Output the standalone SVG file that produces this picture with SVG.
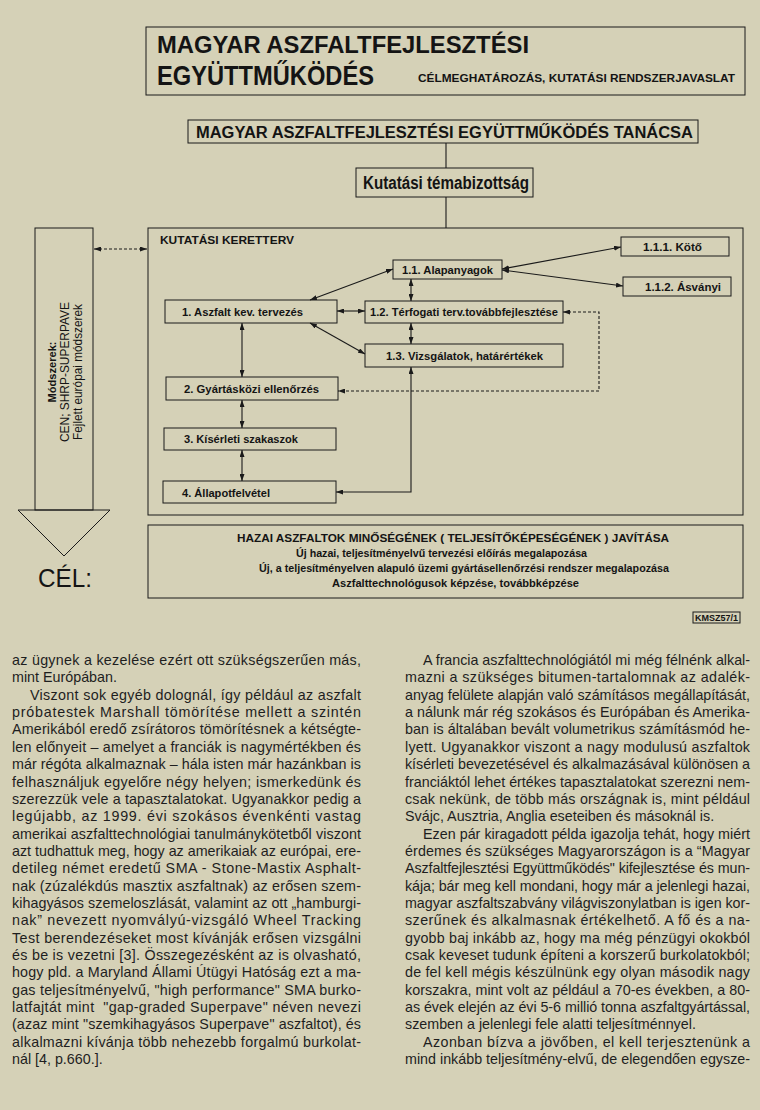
<svg xmlns="http://www.w3.org/2000/svg" width="760" height="1110" viewBox="0 0 760 1110">
<style>
.box{fill:none;stroke:#1a1a1a;stroke-width:1}
.dg{font-family:"Liberation Sans",Arial,sans-serif;font-weight:bold;fill:#141414}
.dn{font-family:"Liberation Sans",Arial,sans-serif;fill:#141414}
.body{font-family:"Liberation Sans",Arial,sans-serif;font-size:14.3px;fill:#1e1e1e}
.ln{fill:none;stroke:#1a1a1a;stroke-width:1.1}
.dash{stroke-dasharray:3 2}
.arr{marker-start:url(#ah);marker-end:url(#ah)}
</style>
<defs>
<marker id="ah" viewBox="0 0 7 5" refX="7" refY="2.5" markerWidth="7" markerHeight="5" markerUnits="userSpaceOnUse" orient="auto-start-reverse">
<path d="M0,0 L7,2.5 L0,5 z" fill="#1a1a1a"/>
</marker>
</defs>
<rect width="760" height="1110" fill="#d5d1b7"/>

<g id="title">
<rect class="box" x="146" y="27" width="599" height="68"/>
<text class="dg" x="157" y="53" font-size="24" textLength="372" lengthAdjust="spacingAndGlyphs">MAGYAR ASZFALTFEJLESZTÉSI</text>
<text class="dg" x="157" y="85" font-size="27" textLength="217" lengthAdjust="spacingAndGlyphs">EGYÜTTMŰKÖDÉS</text>
<text class="dg" x="418" y="82" font-size="10.5" textLength="317" lengthAdjust="spacingAndGlyphs">CÉLMEGHATÁROZÁS, KUTATÁSI RENDSZERJAVASLAT</text>
</g>

<g id="council">
<rect class="box" x="188" y="120" width="510" height="23"/>
<text class="dg" x="196" y="138" font-size="16" textLength="497" lengthAdjust="spacingAndGlyphs">MAGYAR ASZFALTFEJLESZTÉSI EGYÜTTMŰKÖDÉS TANÁCSA</text>
</g>

<g id="committee">
<rect class="box" x="356" y="168" width="177" height="29"/>
<text class="dg" x="363" y="189" font-size="18" textLength="166" lengthAdjust="spacingAndGlyphs">Kutatási témabizottság</text>
</g>

<g id="methods">
<rect class="box" x="35" y="228" width="58" height="282"/>
<path class="box" d="M18,510 L110,510 L64,556 Z"/>
<text class="dg" x="56" y="372" font-size="11.5" text-anchor="middle" transform="rotate(-90 56 372)" textLength="61" lengthAdjust="spacingAndGlyphs">Módszerek:</text>
<text class="dn" x="69" y="372" font-size="12" text-anchor="middle" transform="rotate(-90 69 372)" textLength="140" lengthAdjust="spacingAndGlyphs">CEN; SHRP-SUPERPAVE</text>
<text class="dn" x="82" y="372" font-size="12" text-anchor="middle" transform="rotate(-90 82 372)" textLength="136" lengthAdjust="spacingAndGlyphs">Fejlett európai módszerek</text>
<text class="dn" x="38" y="587" font-size="25" textLength="54" lengthAdjust="spacingAndGlyphs">CÉL:</text>
</g>

<g id="framework">
<rect class="box" x="148" y="228" width="595" height="287"/>
<text class="dg" x="160" y="244" font-size="11" textLength="134" lengthAdjust="spacingAndGlyphs">KUTATÁSI KERETTERV</text>
</g>

<g id="n1">
<rect class="box" x="165" y="300" width="172" height="23"/>
<text class="dg" x="182" y="316" font-size="11" textLength="121" lengthAdjust="spacingAndGlyphs">1. Aszfalt kev. tervezés</text>
</g>
<g id="n11">
<rect class="box" x="393" y="260" width="109" height="19"/>
<text class="dg" x="402" y="274" font-size="11" textLength="91" lengthAdjust="spacingAndGlyphs">1.1. Alapanyagok</text>
</g>
<g id="n111">
<rect class="box" x="621" y="237" width="108" height="19"/>
<text class="dg" x="643" y="251" font-size="11" textLength="59" lengthAdjust="spacingAndGlyphs">1.1.1. Kötő</text>
</g>
<g id="n112">
<rect class="box" x="623" y="277" width="108" height="19"/>
<text class="dg" x="645" y="291" font-size="11" textLength="76" lengthAdjust="spacingAndGlyphs">1.1.2. Ásványi</text>
</g>
<g id="n12">
<rect class="box" x="365" y="301" width="198" height="22"/>
<text class="dg" x="370" y="316" font-size="11" textLength="188" lengthAdjust="spacingAndGlyphs">1.2. Térfogati terv.továbbfejlesztése</text>
</g>
<g id="n13">
<rect class="box" x="365" y="344" width="198" height="23"/>
<text class="dg" x="386" y="360" font-size="11" textLength="157" lengthAdjust="spacingAndGlyphs">1.3. Vizsgálatok, határértékek</text>
</g>
<g id="n2">
<rect class="box" x="166" y="377" width="172" height="23"/>
<text class="dg" x="184" y="393" font-size="11" textLength="135" lengthAdjust="spacingAndGlyphs">2. Gyártásközi ellenőrzés</text>
</g>
<g id="n3">
<rect class="box" x="164" y="428" width="172" height="22"/>
<text class="dg" x="184" y="443" font-size="11" textLength="114" lengthAdjust="spacingAndGlyphs">3. Kísérleti szakaszok</text>
</g>
<g id="n4">
<rect class="box" x="163" y="481" width="173" height="22"/>
<text class="dg" x="182" y="497" font-size="11" textLength="88" lengthAdjust="spacingAndGlyphs">4. Állapotfelvétel</text>
</g>

<g id="goal">
<rect class="box" x="148" y="525" width="595" height="73"/>
<text class="dg" x="237" y="542" font-size="10.5" textLength="432" lengthAdjust="spacingAndGlyphs">HAZAI ASZFALTOK MINŐSÉGÉNEK ( TELJESÍTŐKÉPESÉGÉNEK ) JAVÍTÁSA</text>
<text class="dg" x="296" y="557" font-size="10.5" textLength="291" lengthAdjust="spacingAndGlyphs">Új hazai, teljesítményelvű tervezési előírás megalapozása</text>
<text class="dg" x="259" y="572" font-size="10.5" textLength="410" lengthAdjust="spacingAndGlyphs">Új, a teljesítményelven alapuló üzemi gyártásellenőrzési rendszer megalapozása</text>
<text class="dg" x="332" y="587" font-size="10.5" textLength="247" lengthAdjust="spacingAndGlyphs">Aszfalttechnológusok képzése, továbbképzése</text>
</g>

<g id="code">
<rect class="box" x="693" y="612" width="47" height="11"/>
<text class="dg" x="695" y="621" font-size="9" textLength="43" lengthAdjust="spacingAndGlyphs">KMSZ57/1</text>
</g>

<g id="connectors">
<line class="ln" x1="446" y1="143" x2="446" y2="168"/>
<line class="ln" x1="446" y1="197" x2="446" y2="228"/>
<line class="ln dash arr" x1="94" y1="249" x2="147" y2="249"/>
<line class="ln arr" x1="393" y1="269" x2="310" y2="300"/>
<line class="ln arr" x1="337" y1="311" x2="365" y2="311"/>
<line class="ln arr" x1="310" y1="323" x2="365" y2="354"/>
<line class="ln arr" x1="502" y1="269" x2="621" y2="247"/>
<line class="ln arr" x1="502" y1="270" x2="623" y2="286"/>
<line class="ln arr" x1="411" y1="279" x2="411" y2="301"/>
<line class="ln arr" x1="411" y1="323" x2="411" y2="344"/>
<path class="ln arr" d="M411,367 L411,492 L336,492"/>
<path class="ln dash arr" d="M563,312 L599,312 L599,391 L338,391"/>
<line class="ln arr" x1="242" y1="323" x2="242" y2="377"/>
<line class="ln arr" x1="242" y1="400" x2="242" y2="428"/>
<line class="ln arr" x1="242" y1="450" x2="242" y2="481"/>
</g>

<g id="text-left" class="body">
<text x="12" y="665" textLength="349" lengthAdjust="spacing">az ügynek a kezelése ezért ott szükségszerűen más,</text>
<text x="12" y="682.4">mint Európában.</text>
<text x="30" y="699.7" textLength="331" lengthAdjust="spacing">Viszont sok egyéb dolognál, így például az aszfalt</text>
<text x="12" y="717.1" textLength="349" lengthAdjust="spacing">próbatestek Marshall tömörítése mellett a szintén</text>
<text x="12" y="734.4" textLength="349" lengthAdjust="spacing">Amerikából eredő zsírátoros tömörítésnek a kétségte-</text>
<text x="12" y="751.8" textLength="349" lengthAdjust="spacing">len előnyeit – amelyet a franciák is nagymértékben és</text>
<text x="12" y="769.1" textLength="349" lengthAdjust="spacing">már régóta alkalmaznak – hála isten már hazánkban is</text>
<text x="12" y="786.5" textLength="349" lengthAdjust="spacing">felhasználjuk egyelőre négy helyen; ismerkedünk és</text>
<text x="12" y="803.8" textLength="349" lengthAdjust="spacing">szerezzük vele a tapasztalatokat. Ugyanakkor pedig a</text>
<text x="12" y="821.2" textLength="349" lengthAdjust="spacing">legújabb, az 1999. évi szokásos évenkénti vastag</text>
<text x="12" y="838.5" textLength="349" lengthAdjust="spacing">amerikai aszfalttechnológiai tanulmánykötetből viszont</text>
<text x="12" y="855.9" textLength="349" lengthAdjust="spacing">azt tudhattuk meg, hogy az amerikaiak az európai, ere-</text>
<text x="12" y="873.2" textLength="349" lengthAdjust="spacing">detileg német eredetű SMA - Stone-Mastix Asphalt-</text>
<text x="12" y="890.6" textLength="349" lengthAdjust="spacing">nak (zúzalékdús masztix aszfaltnak) az erősen szem-</text>
<text x="12" y="907.9" textLength="349" lengthAdjust="spacing">kihagyásos szemeloszlását, valamint az ott „hamburgi-</text>
<text x="12" y="925.3" textLength="349" lengthAdjust="spacing">nak” nevezett nyomvályú-vizsgáló Wheel Tracking</text>
<text x="12" y="942.6" textLength="349" lengthAdjust="spacing">Test berendezéseket most kívánják erősen vizsgálni</text>
<text x="12" y="960" textLength="349" lengthAdjust="spacing">és be is vezetni [3]. Összegezésként az is olvasható,</text>
<text x="12" y="977.3" textLength="349" lengthAdjust="spacing">hogy pld. a Maryland Állami Útügyi Hatóság ezt a ma-</text>
<text x="12" y="994.7" textLength="349" lengthAdjust="spacing">gas teljesítményelvű, "high performance" SMA burko-</text>
<text x="12" y="1012" textLength="349" lengthAdjust="spacing">latfajtát mint&#160; "gap-graded Superpave" néven nevezi</text>
<text x="12" y="1029.4" textLength="349" lengthAdjust="spacing">(azaz mint "szemkihagyásos Superpave" aszfaltot), és</text>
<text x="12" y="1046.7" textLength="349" lengthAdjust="spacing">alkalmazni kívánja több nehezebb forgalmú burkolat-</text>
<text x="12" y="1064.1">nál [4, p.660.].</text>
</g>

<g id="text-right" class="body">
<text x="423" y="665" textLength="327" lengthAdjust="spacing">A francia aszfalttechnológiától mi még félnénk alkal-</text>
<text x="405" y="682.4" textLength="345" lengthAdjust="spacing">mazni a szükséges bitumen-tartalomnak az adalék-</text>
<text x="405" y="699.7" textLength="345" lengthAdjust="spacing">anyag felülete alapján való számításos megállapítását,</text>
<text x="405" y="717.1" textLength="345" lengthAdjust="spacing">a nálunk már rég szokásos és Európában és Amerika-</text>
<text x="405" y="734.4" textLength="345" lengthAdjust="spacing">ban is általában bevált volumetrikus számításmód he-</text>
<text x="405" y="751.8" textLength="345" lengthAdjust="spacing">lyett. Ugyanakkor viszont a nagy modulusú aszfaltok</text>
<text x="405" y="769.1" textLength="345" lengthAdjust="spacing">kísérleti bevezetésével és alkalmazásával különösen a</text>
<text x="405" y="786.5" textLength="345" lengthAdjust="spacing">franciáktól lehet értékes tapasztalatokat szerezni nem-</text>
<text x="405" y="803.8" textLength="345" lengthAdjust="spacing">csak nekünk, de több más országnak is, mint például</text>
<text x="405" y="821.2">Svájc, Ausztria, Anglia eseteiben és másoknál is.</text>
<text x="423" y="838.5" textLength="327" lengthAdjust="spacing">Ezen pár kiragadott példa igazolja tehát, hogy miért</text>
<text x="405" y="855.9" textLength="345" lengthAdjust="spacing">érdemes és szükséges Magyarországon is a “Magyar</text>
<text x="405" y="873.2" textLength="345" lengthAdjust="spacing">Aszfaltfejlesztési Együttműködés" kifejlesztése és mun-</text>
<text x="405" y="890.6" textLength="345" lengthAdjust="spacing">kája; bár meg kell mondani, hogy már a jelenlegi hazai,</text>
<text x="405" y="907.9" textLength="345" lengthAdjust="spacing">magyar aszfaltszabvány világviszonylatban is igen kor-</text>
<text x="405" y="925.3" textLength="345" lengthAdjust="spacing">szerűnek és alkalmasnak értékelhető. A fő és a na-</text>
<text x="405" y="942.6" textLength="345" lengthAdjust="spacing">gyobb baj inkább az, hogy ma még pénzügyi okokból</text>
<text x="405" y="960" textLength="345" lengthAdjust="spacing">csak keveset tudunk építeni a korszerű burkolatokból;</text>
<text x="405" y="977.3" textLength="345" lengthAdjust="spacing">de fel kell mégis készülnünk egy olyan második nagy</text>
<text x="405" y="994.7" textLength="345" lengthAdjust="spacing">korszakra, mint volt az például a 70-es években, a 80-</text>
<text x="405" y="1012" textLength="345" lengthAdjust="spacing">as évek elején az évi 5-6 millió tonna aszfaltgyártással,</text>
<text x="405" y="1029.4">szemben a jelenlegi fele alatti teljesítménnyel.</text>
<text x="423" y="1046.7" textLength="327" lengthAdjust="spacing">Azonban bízva a jövőben, el kell terjesztenünk a</text>
<text x="405" y="1064.1" textLength="345" lengthAdjust="spacing">mind inkább teljesítmény-elvű, de elegendően egysze-</text>
</g>
</svg>
